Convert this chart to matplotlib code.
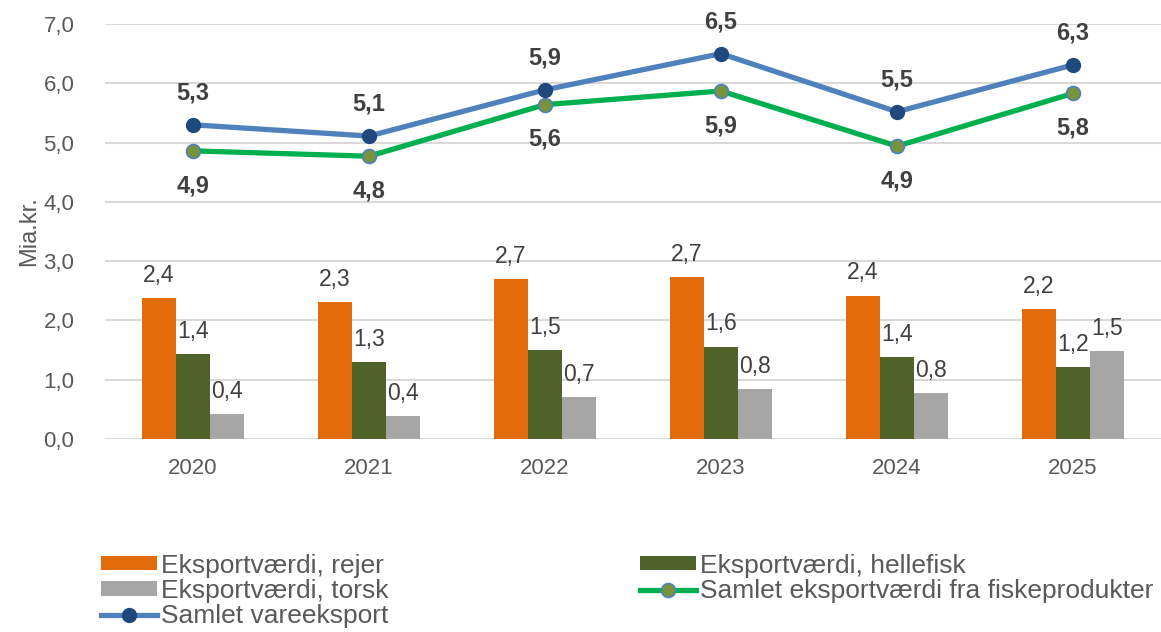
import numpy as np
import matplotlib
matplotlib.use("Agg")
import matplotlib.pyplot as plt

plt.rcParams['font.family'] = ['Liberation Sans', 'DejaVu Sans']

years = ['2020', '2021', '2022', '2023', '2024', '2025']
rejer = [2.38, 2.31, 2.70, 2.73, 2.42, 2.19]
hellefisk = [1.43, 1.30, 1.50, 1.56, 1.38, 1.21]
torsk = [0.42, 0.38, 0.71, 0.84, 0.78, 1.49]
fisk_total = [4.86, 4.77, 5.64, 5.87, 4.94, 5.83]
vare_total = [5.30, 5.11, 5.89, 6.50, 5.52, 6.31]

txt = '#595959'
lbl = '#404040'

def fmt(v):
    return f"{v:.1f}".replace('.', ',')

fig = plt.figure(figsize=(11.61, 6.32), dpi=100)
ax = fig.add_axes([0.0904, 0.3054, 0.9096, 0.6566])

x = np.arange(len(years))
w = 0.193

b1 = ax.bar(x - w, rejer, w, color='#E36C0A', zorder=3, label='Eksportværdi, rejer')
b2 = ax.bar(x, hellefisk, w, color='#4F6228', zorder=3, label='Eksportværdi, hellefisk')
b3 = ax.bar(x + w, torsk, w, color='#A6A6A6', zorder=3, label='Eksportværdi, torsk')

for bars, vals in [(b1, rejer), (b2, hellefisk), (b3, torsk)]:
    for r, v in zip(bars, vals):
        ax.annotate(fmt(v), (r.get_x() + r.get_width() / 2, v), xytext=(0, 8),
                    textcoords='offset points', ha='center', va='bottom',
                    fontsize=16.5, color=lbl)

l1, = ax.plot(x, fisk_total, color='#00B050', lw=3.8, marker='o', ms=10,
              mfc='#77933C', mec='#4F81BD', mew=1.2, zorder=4,
              label='Samlet eksportværdi fra fiskeprodukter')
l2, = ax.plot(x, vare_total, color='#4F81BD', lw=3.8, marker='o', ms=10,
              mfc='#1F497D', mec='#1F497D', zorder=5, label='Samlet vareeksport')

for xi, v in zip(x, vare_total):
    ax.annotate(fmt(v), (xi, v), xytext=(0, 23), textcoords='offset points',
                ha='center', va='center', fontsize=17, fontweight='bold', color=lbl)
for xi, v in zip(x, fisk_total):
    ax.annotate(fmt(v), (xi, v), xytext=(0, -25), textcoords='offset points',
                ha='center', va='center', fontsize=17, fontweight='bold', color=lbl)

ax.set_xlim(-0.5, len(years) - 0.5)
ax.set_ylim(0, 7)
ax.set_yticks(np.arange(0, 7.1, 1))
ax.set_yticklabels([fmt(t) for t in np.arange(0, 7.1, 1)])
ax.set_xticks(x)
ax.set_xticklabels(years)
ax.tick_params(axis='both', length=0, labelsize=16, labelcolor=txt)
ax.tick_params(axis='x', pad=14)
ax.tick_params(axis='y', pad=22)
ax.set_ylabel('Mia.kr.', fontsize=17, color=txt, labelpad=2)
ax.grid(axis='y', color='#D9D9D9', lw=1.5, zorder=0)
for s in ax.spines.values():
    s.set_visible(False)

handles = [b1, b3, l2, b2, l1]
leg = fig.legend(handles, [h.get_label() for h in handles], ncol=2,
                 loc='upper left', bbox_to_anchor=(0.076, 0.145), frameon=False,
                 fontsize=19, labelcolor=txt, handlelength=2.1, handleheight=0.45,
                 handletextpad=0.15, labelspacing=0.05, columnspacing=9.55,
                 borderpad=0)

fig.savefig('out.png', dpi=100)
